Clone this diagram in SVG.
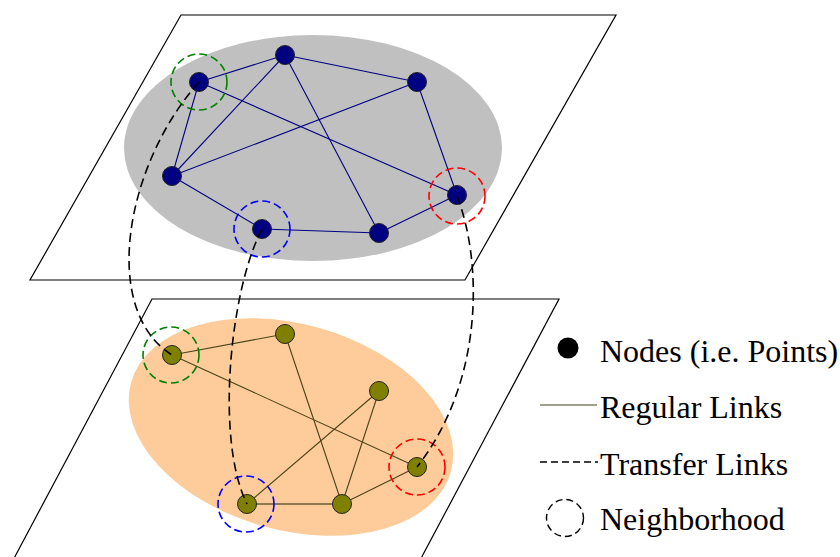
<svg xmlns="http://www.w3.org/2000/svg" width="840" height="557" viewBox="0 0 840 557">
<style>
.plane{fill:#ffffff;stroke:#000;stroke-width:1.2}
.tnode{fill:#000080;stroke:#222;stroke-width:1}
.bnode{fill:#808000;stroke:#222;stroke-width:1}
.tedge{stroke:#000080;stroke-width:1.1;fill:none}
.bedge{stroke:#4a4418;stroke-width:1.1;fill:none}
.transfer{stroke:#000;stroke-width:1.6;fill:none;stroke-dasharray:9 5}
.hood{fill:none;stroke-width:1.6;stroke-dasharray:8 4}
text{font-family:Liberation Serif,Tinos,DejaVu Serif,serif;font-size:32px;fill:#000}
</style>
<rect width="840" height="557" fill="#fff"/>
<g id="plane-top">
<polygon class="plane" points="181,15 616,15 465,280 30,280"/>
<ellipse cx="313" cy="148" rx="189" ry="113" fill="#c0c0c0"/>
</g>
<g id="plane-bottom">
<polygon class="plane" points="152,299 559,299 418,564 11,564"/>
<ellipse cx="291" cy="427" rx="166" ry="103" fill="#fdcc9a" transform="rotate(15.6 291 427)"/>
</g>
<g id="connectors">
<g id="top-links">
<line class="tedge" x1="199" y1="82" x2="285" y2="55"/>
<line class="tedge" x1="285" y1="55" x2="417" y2="82"/>
<line class="tedge" x1="199" y1="82" x2="172" y2="176"/>
<line class="tedge" x1="285" y1="55" x2="172" y2="176"/>
<line class="tedge" x1="417" y1="82" x2="172" y2="176"/>
<line class="tedge" x1="199" y1="82" x2="457" y2="195"/>
<line class="tedge" x1="285" y1="55" x2="379" y2="233"/>
<line class="tedge" x1="417" y1="82" x2="457" y2="195"/>
<line class="tedge" x1="172" y1="176" x2="262" y2="229"/>
<line class="tedge" x1="262" y1="229" x2="379" y2="233"/>
<line class="tedge" x1="379" y1="233" x2="457" y2="195"/>
</g>
<g id="bottom-links">
<line class="bedge" x1="172" y1="355" x2="285" y2="334"/>
<line class="bedge" x1="172" y1="355" x2="417" y2="467"/>
<line class="bedge" x1="285" y1="334" x2="342" y2="504"/>
<line class="bedge" x1="379" y1="391" x2="247" y2="504"/>
<line class="bedge" x1="379" y1="391" x2="342" y2="504"/>
<line x1="247" y1="504" x2="342" y2="504" stroke="#8c7a4c" stroke-width="2"/>
<line class="bedge" x1="342" y1="504" x2="417" y2="467"/>
</g>
</g>
<g id="top-nodes">
<circle id="tA" class="tnode" cx="199" cy="82" r="9.5"/>
<circle id="tB" class="tnode" cx="285" cy="55" r="9.5"/>
<circle id="tC" class="tnode" cx="417" cy="82" r="9.5"/>
<circle id="tD" class="tnode" cx="172" cy="176" r="9.5"/>
<circle id="tE" class="tnode" cx="457" cy="195" r="9.5"/>
<circle id="tF" class="tnode" cx="262" cy="229" r="9.5"/>
<circle id="tG" class="tnode" cx="379" cy="233" r="9.5"/>
</g>
<g id="bottom-nodes">
<circle id="ba" class="bnode" cx="172" cy="355" r="9.5"/>
<circle id="bb" class="bnode" cx="285" cy="334" r="9.5"/>
<circle id="bc" class="bnode" cx="379" cy="391" r="9.5"/>
<circle id="bd" class="bnode" cx="417" cy="467" r="9.5"/>
<circle id="be" class="bnode" cx="247" cy="504" r="9.5"/>
<circle id="bf" class="bnode" cx="342" cy="504" r="9.5"/>
</g>
<g id="neighborhoods">
<circle class="hood" stroke="#008000" cx="199" cy="82" r="28"/>
<circle class="hood" stroke="#ff0000" cx="457" cy="196" r="28"/>
<circle class="hood" stroke="#0000ff" cx="262" cy="229" r="28"/>
<circle class="hood" stroke="#008000" cx="171" cy="355" r="28"/>
<circle class="hood" stroke="#0000ff" cx="246" cy="504" r="28"/>
<circle class="hood" stroke="#ff0000" cx="417" cy="467" r="28"/>
</g>
<g id="transfer-links">
<path class="transfer" d="M199,82 C125,165 100,310 172,355"/>
<path class="transfer" d="M262,229 C230,290 215,440 247,504"/>
<path class="transfer" d="M457,196 C482,260 485,380 417,467"/>
</g>
<g id="legend">
<circle cx="568" cy="348" r="10.5" fill="#000"/>
<text x="600" y="362">Nodes (i.e. Points)</text>
<line x1="540" y1="405" x2="597" y2="405" stroke="#808066" stroke-width="1.3"/>
<text x="600" y="418">Regular Links</text>
<line x1="540" y1="462" x2="598" y2="462" stroke="#000" stroke-width="1.6" stroke-dasharray="7 4"/>
<text x="600" y="475">Transfer Links</text>
<circle cx="565" cy="518" r="18.5" fill="none" stroke="#000" stroke-width="1.4" stroke-dasharray="7 4"/>
<text x="600" y="530">Neighborhood</text>
</g>
</svg>
